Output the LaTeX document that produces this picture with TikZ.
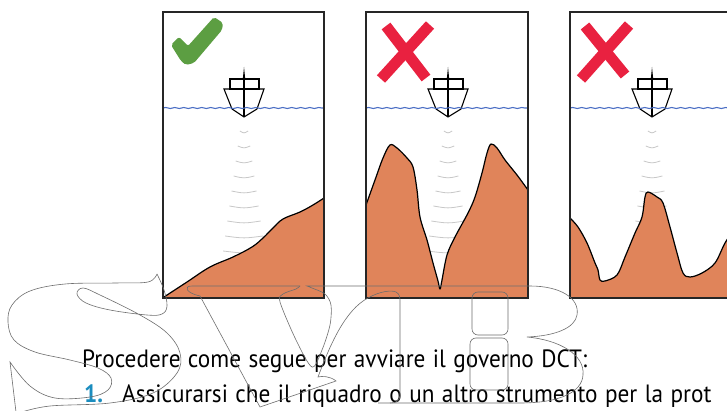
\documentclass[tikz,border=0pt]{standalone}
\usepackage{fontspec}
\setmainfont{PT Sans}[FakeStretch=0.93, WordSpace=1.2]
\usetikzlibrary{decorations.pathmorphing}
\definecolor{seabed}{RGB}{224,132,90}
\definecolor{okgreen}{RGB}{92,158,66}
\definecolor{badred}{RGB}{233,33,64}
\definecolor{waterblue}{RGB}{74,110,196}
\definecolor{stepblue}{RGB}{27,141,191}
\definecolor{wmgray}{RGB}{110,110,110}
\definecolor{pinggray}{RGB}{200,200,200}

\tikzset{
  panelbox/.style={draw=black!85, line width=1.3pt},
  seafloor/.style={fill=seabed, draw=black, line width=1.2pt, line join=round},
  waterline/.style={draw=waterblue, line width=1.1pt, decorate,
    decoration={snake, amplitude=0.5pt, segment length=9pt}},
  sonar/.style={draw=pinggray, line width=0.8pt},
  boatline/.style={draw=black, line width=1.1pt},
  redcross/.style={draw=badred, line width=11pt},
  wmline/.style={draw=wmgray, line width=0.6pt},
  bodytext/.style={anchor=base west, inner sep=0pt, font=\fontsize{25}{30}\selectfont}
}

% boat with its sonar pings, #1 = centre x of the panel
\newcommand{\boatat}[1]{
  \foreach \i in {1,...,9}{
    \pgfmathsetmacro{\py}{116+15*\i}
    \pgfmathsetmacro{\pw}{2+2.1*\i}
    \draw[sonar] ({#1-\pw},\py) .. controls (#1,{\py+2.5}) .. ({#1+\pw},\py);
  }
  \draw[boatline] (#1-14,89) rectangle (#1+15,79);
  \draw[boatline, line join=miter] (#1-20,89) -- (#1+20,89) -- (#1+13,109) -- (#1,117) -- (#1-12,109) -- cycle;
  \draw[boatline] (#1,79) -- (#1,117);
  \fill (#1-1.2,79) -- (#1,67) -- (#1+1.2,79) -- cycle;
}

\begin{document}
\begin{tikzpicture}[x=1pt, y=-1pt]
\useasboundingbox (0,0) rectangle (727,411);
\clip (0,0) rectangle (727,411);
\fill[white] (0,0) rectangle (727,411);

% first panel: gentle slope
\boatat{244}
\draw[waterline] (163,108) -- (324,108);
\filldraw[seafloor] plot[smooth, tension=0.6] coordinates {(164,297) (187,282) (210,267) (233,257) (252,247) (263,238) (273,228) (283,219) (300,212) (313,205) (324,198)} -- (324,298) -- (164,298) -- cycle;
\draw[panelbox] (163,12) rectangle (324,298);
\fill[okgreen, rounded corners=2pt] (171,45) -- (179,37) -- (188,46) -- (214,17) -- (223,23) -- (222,30) -- (194,63) -- (186,65) -- (181,61) -- cycle;

% second panel: steep peaks with a narrow gap
\boatat{448}
\draw[waterline] (366,108) -- (528,108);
\filldraw[seafloor] plot[smooth, tension=0.55] coordinates {(366,205) (375,180) (383,158) (390,145) (397,148) (407,158) (413,167) (417,190) (420,217) (427,240) (433,263) (438,281) (440,289) (442,280) (447,255) (455,237) (468,213) (475,197) (482,173) (487,153) (491,144) (497,148) (505,160) (517,175) (528,190)} -- (528,298) -- (366,298) -- cycle;
\draw[panelbox] (366,12) rectangle (528,298);
\draw[redcross] (386,26) -- (426,78);
\draw[redcross] (430,25) -- (381,79);

% third panel: peak right under the boat
\boatat{652}
\draw[waterline] (570,108) -- (735,108);
\filldraw[seafloor] plot[smooth, tension=0.55] coordinates {(570,218) (578,227) (587,243) (595,263) (598,270) (600,280) (605,281) (617,275) (625,257) (635,233) (642,217) (645,197) (648,192) (657,197) (663,203) (670,227) (677,253) (683,273) (690,277) (702,273) (715,263) (725,243) (735,228)} -- (735,298) -- (570,298) -- cycle;
\draw[panelbox] (570,12) rectangle (740,298);
\draw[redcross] (585,26) -- (625,75);
\draw[redcross] (629,25) -- (581,79);

% text below the panels
\node[bodytext] (intro) at (82,367) {Procedere come segue per avviare il governo DCT:};
\node[bodytext, text=stepblue, font=\fontsize{25}{30}\selectfont\bfseries] (stepnum) at (84,402) {1.};
\node[bodytext] (steptext) at (122,402) {Assicurarsi che il riquadro o un altro strumento per la prot};

% outlined letters laid over everything
\draw[wmline] plot[smooth, tension=0.6] coordinates {(157,274) (148,282) (115,283) (65,284) (30,291) (12,305) (8,322) (14,340) (35,352) (70,360) (98,368) (111,378) (108,390) (90,397) (55,398) (30,386) (10,362)} -- (16,412);
\draw[wmline] plot[smooth, tension=0.6] coordinates {(157,274) (164,290) (167,306) (162,314) (147,315) (110,310) (86,303) (77,294) (83,288) (100,295) (140,315) (167,333) (180,353) (177,373) (153,393) (110,403) (50,406) (22,412)};
\draw[wmline] (300,286) -- (192,286) .. controls (183,286) and (186,293) .. (200,296) -- (260,407) -- (336,381) .. controls (330,376) and (322,376) .. (318,377) .. controls (330,345) and (345,310) .. (368,298) .. controls (380,291) and (392,290) .. (396,292) .. controls (400,294) and (400,298) .. (400,302) -- (400,395) .. controls (400,401) and (396,403) .. (390,403);
\draw[wmline] plot[smooth, tension=0.5] coordinates {(300,286) (296,289) (283,294) (280,302) (296,340) (312,367) (322,350) (330,325) (331,305) (325,294) (312,288) (307,286)} -- (530,286) .. controls (560,286) and (580,298) .. (577,315) .. controls (575,328) and (555,336) .. (527,337) .. controls (560,340) and (585,355) .. (583,375) .. controls (582,392) and (560,403) .. (520,403) -- (378,403);
\draw[wmline, rounded corners=6pt] (472,292) rectangle (508,335);
\draw[wmline, rounded corners=6pt] (470,338) rectangle (508,390);
\end{tikzpicture}
\end{document}
